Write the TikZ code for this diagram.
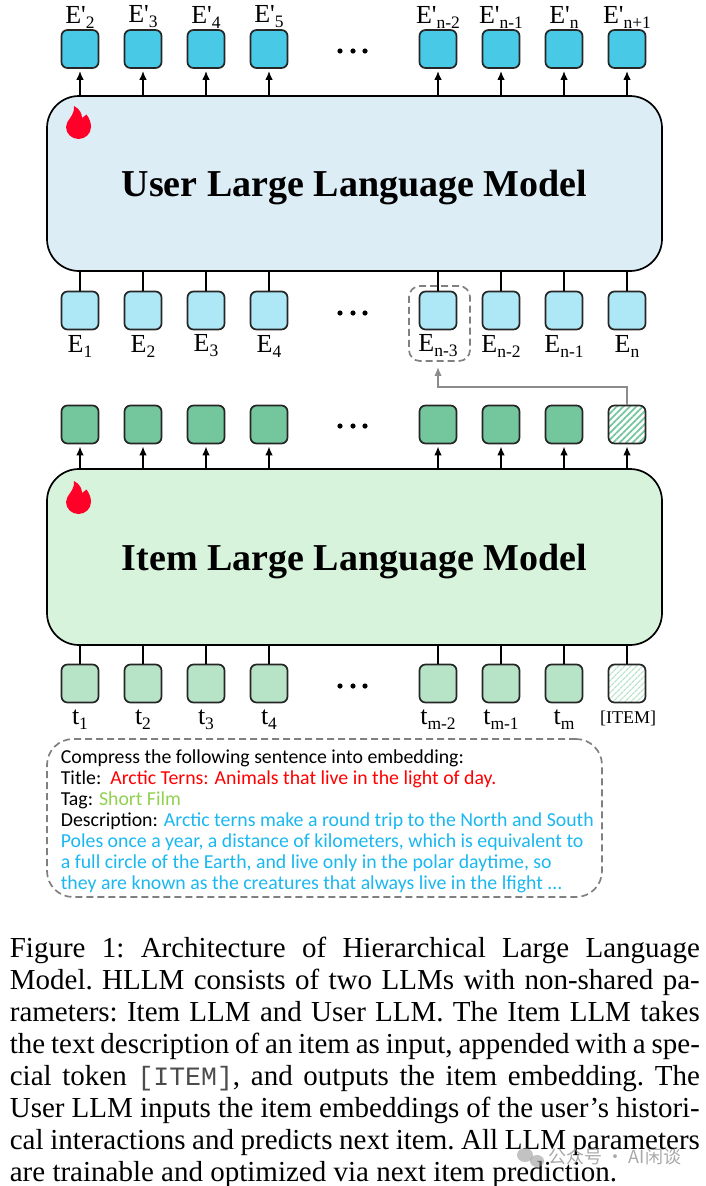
\documentclass[tikz,border=0pt]{standalone}
\usepackage{fontspec}
\setmainfont{Liberation Serif}
\setmonofont{Liberation Mono}
\newfontfamily\labfont{Liberation Serif}
\newfontfamily\promptfont{Carlito}
\newfontfamily\cjkfont{Noto Sans CJK SC}
\usetikzlibrary{arrows.meta,patterns.meta}
\definecolor{cout}{HTML}{48C9E5}
\definecolor{cemb}{HTML}{AEE7F5}
\definecolor{cuser}{HTML}{DDEDF6}
\definecolor{cgreen}{HTML}{74C69D}
\definecolor{clight}{HTML}{B7E4C7}
\definecolor{citem}{HTML}{D8F3DC}
\definecolor{cflame}{HTML}{FF0028}
\definecolor{cprompt}{HTML}{1AB7F0}
\definecolor{ctag}{HTML}{92D050}
\newcommand{\lowsub}[1]{\raisebox{-5pt}{\fontsize{17.5}{17.5}\selectfont #1}}
\tikzset{
  hllm/.style={x=1pt,y=-1pt,line width=1.7pt},
  token/.style={draw=black!85,rounded corners=6pt,minimum width=37pt,minimum height=38pt,inner sep=0pt},
  model/.style={draw=black,rounded corners=32pt,minimum width=615pt,inner sep=0pt,text depth=0pt,font=\fontsize{38}{38}\selectfont\bfseries},
  toklabel/.style={inner sep=0pt,font=\labfont\fontsize{26}{26}\selectfont},
  uparrow/.style={-{Latex[length=9pt,width=7.5pt]},shorten >=2pt},
  graybox/.style={draw=black!50,dashed,dash pattern=on 7pt off 4pt},
  flame/.pic={
    \fill[cflame] (8,0) .. controls (14,3) and (16,8) .. (16,12) .. controls (18,11) and (19,10) .. (20.5,8.5)
      .. controls (23,12) and (25,16) .. (25,21) .. controls (25,28) and (19,33) .. (12.5,33)
      .. controls (6,33) and (0,28) .. (0,21) .. controls (0,14) and (9,10) .. (8,0) -- cycle;
  }
}
\begin{document}
\begin{tikzpicture}[hllm]
    \useasboundingbox (0,0) rectangle (705,1186);
    \node[model,fill=cuser,minimum height=175pt] (userllm) at (354.5,183.5) {User Large Language Model};
    \node[model,fill=citem,minimum height=176pt] (itemllm) at (354.5,557) {Item Large Language Model};
    \pic at (66,106) {flame};
    \pic at (66,481) {flame};
    % token rows
    \foreach \i/\x/\o/\e in {1/80/2/1,2/143/3/2,3/206/4/3,4/269/5/4,5/438/n-2/n-3,6/501/n-1/n-2,7/564/n/n-1,8/627/n+1/n} {
      \node[token,fill=cout] (eout\i) at (\x,49) {};
      \node[toklabel] (eoutlab\i) at (\x,17) {E'\lowsub{\o}};
      \node[token,fill=cemb] (emb\i) at (\x,310.5) {};
      \node[toklabel] (emblab\i) at (\x,346) {E\lowsub{\e}};
      \draw[uparrow] (userllm.north -| eout\i) -- (eout\i);
      \draw (userllm.south -| emb\i) -- (emb\i);
    }
    \foreach \i/\x/\t in {1/80/1,2/143/2,3/206/3,4/269/4,5/438/m-2,6/501/m-1,7/564/m} {
      \node[token,fill=cgreen] (iout\i) at (\x,424.5) {};
      \node[token,fill=clight] (tok\i) at (\x,683.5) {};
      \node[toklabel] (toklab\i) at (\x,720) {t\lowsub{\t}};
      \draw[uparrow] (itemllm.north -| iout\i) -- (iout\i);
      \draw (itemllm.south -| tok\i) -- (tok\i);
    }
    \node[token,fill=white,pattern={Lines[angle=45,distance=4.6pt,line width=1.7pt]},pattern color=cgreen] (iout8) at (627,424.5) {};
    \node[token,fill=white,pattern={Lines[angle=45,distance=4pt,line width=1.3pt]},pattern color=clight] (tok8) at (627,683.5) {};
    \node[toklabel,font=\labfont\fontsize{18}{18}\selectfont] (toklab8) at (628,718) {[ITEM]};
    \draw[uparrow] (itemllm.north -| iout8) -- (iout8);
    \draw (itemllm.south -| tok8) -- (tok8);
    % dots
    \foreach \y in {51,313,426,686}
      \foreach \x in {340,353,365} \fill (\x,\y) circle (2.6pt);
    % highlight of the chosen embedding
    \node[graybox,rounded corners=11pt,minimum width=61pt,minimum height=75pt,inner sep=0pt] (chosen) at (439.5,323.5) {};
    \coordinate (turn) at (438,387);
    \draw[black!45,line width=2pt,-{Latex[length=9pt,width=7.5pt]},shorten >=5pt] (iout8) |- (turn) -- (chosen.south -| turn);
    % prompt
    \node[graybox,rounded corners=26pt,minimum width=555pt,minimum height=158pt,inner sep=0pt] (promptbox) at (324.5,818) {};
    \node[anchor=north west,inner sep=0pt,align=left,font=\promptfont\fontsize{19.8}{21}\selectfont] (prompttext) at (60,749) {%
      Compress the following sentence into embedding:\\
      Title:\ \ \textcolor{red}{Arctic Terns: Animals that live in the light of day.}\\
      Tag: \textcolor{ctag}{Short Film}\\
      Description: \textcolor{cprompt}{Arctic terns make a round trip to the North and South}\\
      \textcolor{cprompt}{Poles once a year, a distance of kilometers, which is equivalent to}\\
      \textcolor{cprompt}{a full circle of the Earth, and live only in the polar daytime, so}\\
      \textcolor{cprompt}{they are known as the creatures that always live in the lfight ...}};
    % caption
    \node[anchor=north west,inner sep=0pt,text width=690pt,align=justify,font=\fontsize{29}{32}\selectfont] (caption) at (9,936) {%
      \frenchspacing\tolerance=9999\emergencystretch=30pt\hyphenpenalty=10000
      Figure 1: Architecture of Hierarchical Large Language\linebreak
      Model. HLLM consists of two LLMs with non-shared pa-\linebreak
      rameters: Item LLM and User LLM. The Item LLM takes\linebreak
      the text description of an item as input, appended with a spe-\linebreak
      cial token {\color{black!70}\ttfamily\fontsize{26.5}{32}\selectfont [ITEM]}, and outputs the item embedding. The\linebreak
      User LLM inputs the item embeddings of the user’s histori-\linebreak
      cal interactions and predicts next item. All LLM parameters\linebreak
      are trainable and optimized via next item prediction.};
    % watermark
    \fill[black!40,opacity=.6] (525,1155) ellipse (8pt and 7pt);
    \fill[black!40,opacity=.6] (537,1161) ellipse (7pt and 6pt);
    \node[anchor=west,inner sep=0pt,text=black!45,opacity=.75,font=\cjkfont\fontsize{18}{18}\selectfont] (mark) at (548,1157) {公众号 · AI闲谈};
\end{tikzpicture}
\end{document}
